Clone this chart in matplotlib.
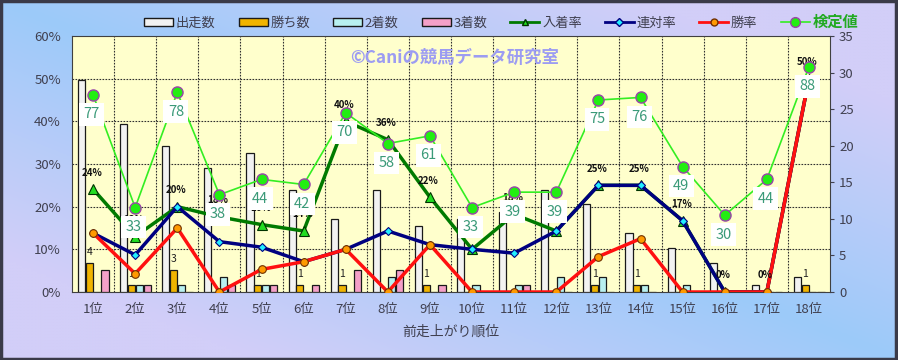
import numpy as np
import matplotlib
matplotlib.use("Agg")
import matplotlib.pyplot as plt
from matplotlib.patches import Patch, Rectangle
from matplotlib.lines import Line2D

plt.rcParams['font.family'] = ['Noto Sans CJK JP', 'DejaVu Sans']

# 前走上がり順位別の成績
cats = ["1位", "2位", "3位", "4位", "5位", "6位", "7位", "8位", "9位",
        "10位", "11位", "12位", "13位", "14位", "15位", "16位", "17位", "18位"]
starts = [29, 23, 20, 17, 19, 14, 10, 14, 9, 10, 11, 14, 12, 8, 6, 4, 1, 2]
wins = [4, 1, 3, 0, 1, 1, 1, 0, 1, 0, 0, 0, 1, 1, 0, 0, 0, 1]
seconds = [0, 1, 1, 2, 1, 0, 0, 2, 0, 1, 1, 2, 2, 1, 1, 0, 0, 0]
thirds = [3, 1, 0, 1, 1, 1, 3, 3, 1, 0, 1, 0, 0, 0, 0, 0, 0, 0]

# 率 (%)
win_rate = [13.8, 4.3, 15.0, 0, 5.3, 7.1, 10.0, 0, 11.1, 0, 0, 0, 8.3, 12.5, 0, 0, 0, 50.0]
rentai_rate = [13.8, 8.7, 20.0, 11.8, 10.5, 7.1, 10.0, 14.3, 11.1, 10.0, 9.1, 14.3, 25.0, 25.0, 16.7, 0, 0, 50.0]
place_rate = [24.1, 13.0, 20.0, 17.6, 15.8, 14.3, 40.0, 35.7, 22.2, 10.0, 18.2, 14.3, 25.0, 25.0, 16.7, 0, 0, 50.0]
kentei = [77, 33, 78, 38, 44, 42, 70, 58, 61, 33, 39, 39, 75, 76, 49, 30, 44, 88]

x = np.arange(len(cats))

fig = plt.figure(figsize=(8.98, 3.6), dpi=100)

# 背景グラデーション
bg = fig.add_axes([0, 0, 1, 1], zorder=-10)
gx, gy = np.meshgrid(np.linspace(0, 1, 300), np.linspace(0, 1, 120))
t = np.clip(np.abs(gx - gy) * 1.4, 0, 1)
c0 = np.array([0x9c, 0xca, 0xfa]) / 255
c1 = np.array([0xd2, 0xce, 0xf8]) / 255
img = c0[None, None, :] * (1 - t[..., None]) + c1[None, None, :] * t[..., None]
bg.imshow(img, aspect='auto', extent=[0, 1, 0, 1], origin='upper')
bg.axis('off')
fig.patches.append(Rectangle((0.001, 0.002), 0.997, 0.995, transform=fig.transFigure,
                             fill=False, edgecolor='#3a3a48', lw=2.5))

ax = fig.add_axes([0.0802, 0.1889, 0.8441, 0.7111])
ax2 = ax.twinx()
ax.set_zorder(1)
ax2.set_zorder(2)
ax2.patch.set_visible(False)
ax.set_facecolor('#ffffcc')

# 棒グラフ (出走数など) -> 右軸
w = 0.17
bar_kw = dict(width=w, edgecolor='#1a1a1a', linewidth=0.9, zorder=3)
ax.bar(x - 0.273, starts, color='#f2f2f2', **bar_kw)
ax.bar(x - 0.09, wins, color='#f0b400', **bar_kw)
ax.bar(x + 0.093, seconds, color='#b8f0f0', **bar_kw)
ax.bar(x + 0.285, thirds, color='#f4a0c8', **bar_kw)
for xi, v in zip(x, wins):
    if v > 0:
        ax.annotate(str(v), (xi - 0.09, v), xytext=(0, 8), textcoords='offset points',
                    ha='center', va='center', fontsize=7.5, color='#202020', zorder=4)

ax.set_xlim(-0.5, 17.5)
ax.set_ylim(0, 35)
ax.set_yticks(range(0, 36, 5))
ax.yaxis.tick_right()
ax.tick_params(axis='y', length=3, colors='#404050', labelsize=9.5, direction='out')
ax.set_xticks(x)
ax.set_xticklabels(cats)
ax.tick_params(axis='x', length=0, labelsize=9.5, colors='#404050', pad=8)
ax.set_xlabel("前走上がり順位", fontsize=10, color='#404050', labelpad=6)

# グリッド
for p in range(10, 60, 10):
    ax.axhline(p / 60 * 35, color='#303030', lw=0.8, ls=(0, (1.5, 1.2)), zorder=1)
for b in x[:-1]:
    ax.axvline(b + 0.5, color='#303030', lw=0.8, ls=(0, (1.5, 1.2)), zorder=1)

for s in ax.spines.values():
    s.set_color('#404040')
for s in ax2.spines.values():
    s.set_visible(False)

# 折れ線 -> 左軸 (%)
ax2.set_ylim(0, 60)
ax2.set_yticks(range(0, 61, 10))
ax2.set_yticklabels([f"{v}%" for v in range(0, 61, 10)])
ax2.yaxis.tick_left()
ax2.tick_params(axis='y', length=0, colors='#404050', labelsize=9.5, pad=8)

ax2.plot(x, place_rate, color='#007a00', lw=2.5, marker='^', ms=7,
         mfc='#22dd22', mec='#003300', mew=0.8, zorder=3)
ax2.plot(x, rentai_rate, color='#000080', lw=2.5, marker='D', ms=4.5,
         mfc='#22eeff', mec='#000080', mew=0.8, zorder=4)
ax2.plot(x, win_rate, color='#ff1010', lw=2.5, marker='o', ms=5.5,
         mfc='#ff9a00', mec='#703000', mew=0.8, zorder=5)
for xi, v in zip(x, place_rate):
    ax2.annotate(f"{round(v)}%", (xi, v), xytext=(-1, 12), textcoords='offset points',
                 ha='center', va='center', fontsize=7, fontweight='bold', color='#101010', zorder=6)

# 検定値 (0-100 を左軸の高さに合わせる)
kentei_y = [k * 0.6 for k in kentei]
ax2.plot(x, kentei_y, color='#33ee22', lw=1.2, marker='o', ms=8,
         mfc='#22ee11', mec='#9944aa', mew=1.0, zorder=7)
for xi, k, ky in zip(x, kentei, kentei_y):
    ax2.annotate(str(k), (xi, ky), xytext=(-1, -14), textcoords='offset points',
                 ha='center', va='center', fontsize=10.5, color='#3a9a78', zorder=8,
                 bbox=dict(boxstyle='square,pad=0.3', fc='white', ec='none'))

ax2.text(0.505, 0.915, "©Caniの競馬データ研究室", transform=ax2.transAxes,
         ha='center', va='center', fontsize=12.5, fontweight='bold', color='#9c9cf2', zorder=9)

# 凡例
handles = [
    Patch(facecolor='#f2f2f2', edgecolor='#1a1a1a'),
    Patch(facecolor='#f0b400', edgecolor='#1a1a1a'),
    Patch(facecolor='#b8f0f0', edgecolor='#1a1a1a'),
    Patch(facecolor='#f4a0c8', edgecolor='#1a1a1a'),
    Line2D([], [], color='#007a00', lw=2, marker='^', ms=5, mfc='#22dd22', mec='#003300'),
    Line2D([], [], color='#000080', lw=2, marker='D', ms=4, mfc='#22eeff', mec='#000080'),
    Line2D([], [], color='#ff1010', lw=2, marker='o', ms=5, mfc='#ff9a00', mec='#703000'),
    Line2D([], [], color='#33ee22', lw=1.2, marker='o', ms=7, mfc='#22ee11', mec='#9944aa'),
]
labels = ["出走数", "勝ち数", "2着数", "3着数", "入着率", "連対率", "勝率", "検定値"]
leg = fig.legend(handles, labels, loc='upper center', bbox_to_anchor=(0.558, 0.995), ncol=8,
                 frameon=False, fontsize=9.5, handlelength=2.2, handleheight=0.55,
                 columnspacing=1.75, handletextpad=0.2)
for txt in leg.get_texts():
    txt.set_color('#404050')
leg.get_texts()[-1].set_color('#22aa22')
leg.get_texts()[-1].set_fontweight('bold')
leg.get_texts()[-1].set_fontsize(11)

fig.savefig("out.png", dpi=100)
